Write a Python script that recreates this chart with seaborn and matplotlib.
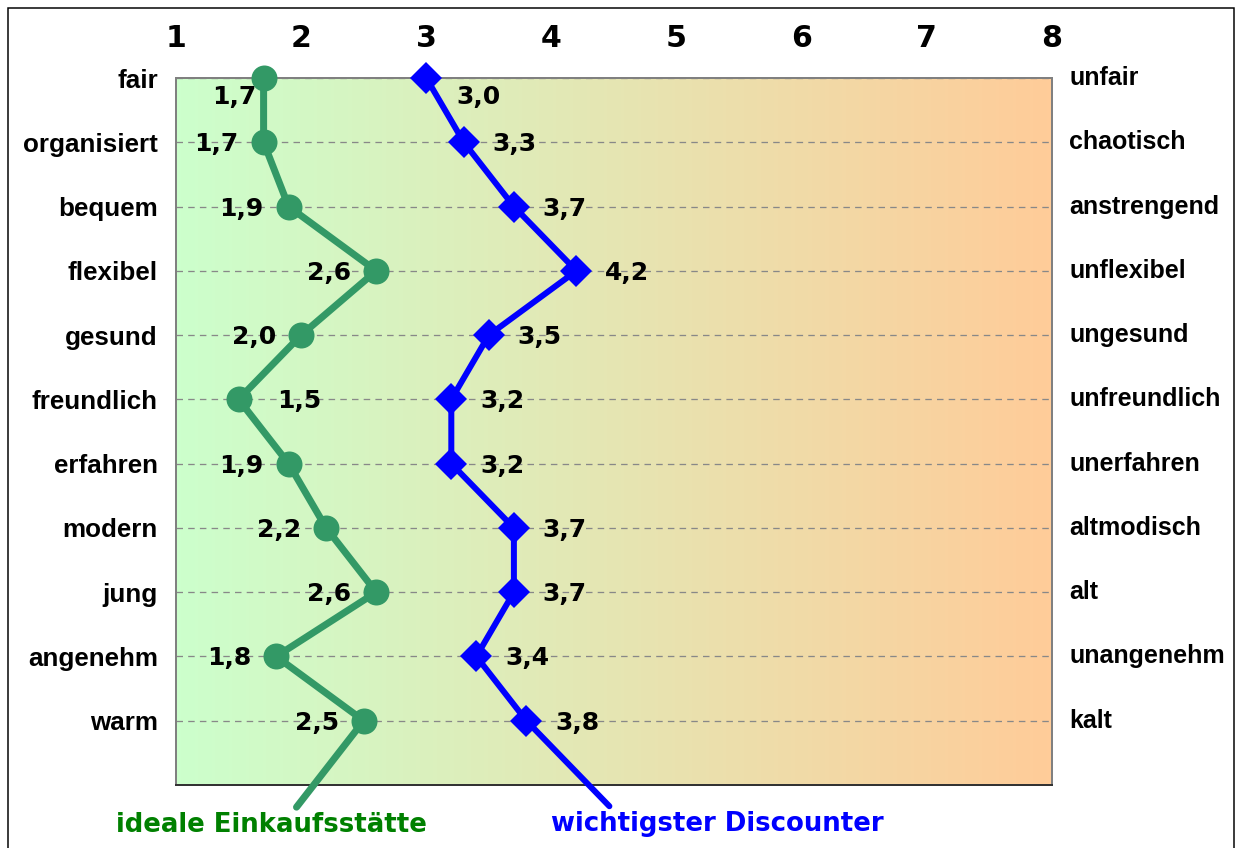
import numpy as np
import pandas as pd
import matplotlib
matplotlib.use("Agg")
import matplotlib.pyplot as plt
import seaborn as sns
from matplotlib.colors import LinearSegmentedColormap
from matplotlib.patches import Rectangle

# Semantic differential: positive pole (left) vs. negative pole (right)
left_terms = ["fair", "organisiert", "bequem", "flexibel", "gesund", "freundlich",
              "erfahren", "modern", "jung", "angenehm", "warm"]
right_terms = ["unfair", "chaotisch", "anstrengend", "unflexibel", "ungesund",
               "unfreundlich", "unerfahren", "altmodisch", "alt", "unangenehm", "kalt"]
ideal = [1.7, 1.7, 1.9, 2.6, 2.0, 1.5, 1.9, 2.2, 2.6, 1.8, 2.5]
discounter = [3.0, 3.3, 3.7, 4.2, 3.5, 3.2, 3.2, 3.7, 3.7, 3.4, 3.8]
scale_ticks = [1, 2, 3, 4, 5, 6, 7, 8]
series_names = ["ideale Einkaufsstätte", "wichtigster Discounter"]

rows = np.arange(len(left_terms))
df = pd.DataFrame({"row": rows, "ideal": ideal, "discounter": discounter})

sns.set_theme(style="white")
plt.rcParams["font.family"] = ["DejaVu Sans"]
plt.rcParams["text.color"] = "black"
plt.rcParams["xtick.color"] = "black"
plt.rcParams["ytick.color"] = "black"

DPI = 72
fig = plt.figure(figsize=(1242 / DPI, 848 / DPI), dpi=DPI)
ax = fig.add_axes([176 / 1242, 1 - 785 / 848, 876 / 1242, 707 / 848])

GREEN = "#339966"
BLUE = "#0000ff"

# background gradient from light green to light orange
cmap = LinearSegmentedColormap.from_list("bg", ["#ccffcc", "#ffcc99"])
ax.imshow(np.linspace(0, 1, 256)[None, :], extent=(1, 8, 11, 0),
          aspect="auto", cmap=cmap, zorder=0, interpolation="bilinear")

sns.lineplot(data=df, x="ideal", y="row", sort=False, estimator=None, ax=ax,
             color=GREEN, linewidth=7, marker="o", markersize=26,
             markeredgewidth=0, zorder=4)
sns.lineplot(data=df, x="discounter", y="row", sort=False, estimator=None, ax=ax,
             color=BLUE, linewidth=6, marker="D", markersize=23,
             markeredgewidth=0, zorder=4)
for line in ax.lines:
    line.set_clip_on(False)

ax.set_xlim(1, 8)
ax.set_ylim(11, 0)
ax.set_xlabel("")
ax.set_ylabel("")

# scale on top
ax.xaxis.tick_top()
ax.set_xticks(scale_ticks)
ax.set_xticklabels([str(t) for t in scale_ticks], fontsize=30, fontweight="bold")
ax.tick_params(axis="x", length=0, pad=25, labelcolor="black")

# left pole labels as y tick labels, dashed row guides
ax.set_yticks(rows)
ax.set_yticklabels(left_terms, fontsize=26, fontweight="bold",
                   family=["Liberation Sans"])
ax.tick_params(axis="y", length=0, pad=18, labelcolor="black")
ax.yaxis.grid(True, linestyle=(0, (5, 4)), color="#888888", linewidth=1.3)
ax.xaxis.grid(False)

# right pole labels
for r, term in zip(rows, right_terms):
    ax.text(1.0195, r, term, transform=ax.get_yaxis_transform(), ha="left",
            va="center", fontsize=25, fontweight="bold", color="black",
            family=["Liberation Sans"])

for side in ["top", "left", "right"]:
    ax.spines[side].set_color("#808080")
    ax.spines[side].set_linewidth(2)
ax.spines["bottom"].set_color("#333333")
ax.spines["bottom"].set_linewidth(2)

# value labels
ideal_offsets = {0: (-29, -19), 5: (61, -2)}
disc_offsets = {0: (52, -19)}
for i, (vi, vd) in enumerate(zip(ideal, discounter)):
    ax.annotate(f"{vi:.1f}".replace(".", ","), (vi, i), xytext=ideal_offsets.get(i, (-47, -2)),
                textcoords="offset points", ha="center", va="center",
                fontsize=25, fontweight="bold", color="black", zorder=6)
    ax.annotate(f"{vd:.1f}".replace(".", ","), (vd, i), xytext=disc_offsets.get(i, (51, -2)),
                textcoords="offset points", ha="center", va="center",
                fontsize=25, fontweight="bold", color="black", zorder=6)

# series names below the plot, connected to the last point
last = len(rows) - 1
ax.annotate(series_names[0], xy=(ideal[last], last), xycoords="data",
            xytext=(0.1084, -0.0566), textcoords="axes fraction",
            ha="center", va="center", fontsize=26, fontweight="bold", color="#008000",
            arrowprops=dict(arrowstyle="-", color=GREEN, lw=7, relpos=(0.57, 1.0),
                            shrinkA=3, shrinkB=0),
            annotation_clip=False, zorder=3)
ax.annotate(series_names[1], xy=(discounter[last], last), xycoords="data",
            xytext=(0.6176, -0.055), textcoords="axes fraction",
            ha="center", va="center", fontsize=26, fontweight="bold", color=BLUE,
            arrowprops=dict(arrowstyle="-", color=BLUE, lw=6, relpos=(0.19, 1.0),
                            shrinkA=3, shrinkB=0),
            annotation_clip=False, zorder=3)

# outer frame
fig.patches.append(Rectangle((8 / 1242, -0.01), (1234 - 8) / 1242, 1 - 8 / 848 + 0.01,
                             transform=fig.transFigure, fill=False,
                             edgecolor="black", linewidth=1.5))

fig.savefig("out.png", dpi=DPI, facecolor="white")
